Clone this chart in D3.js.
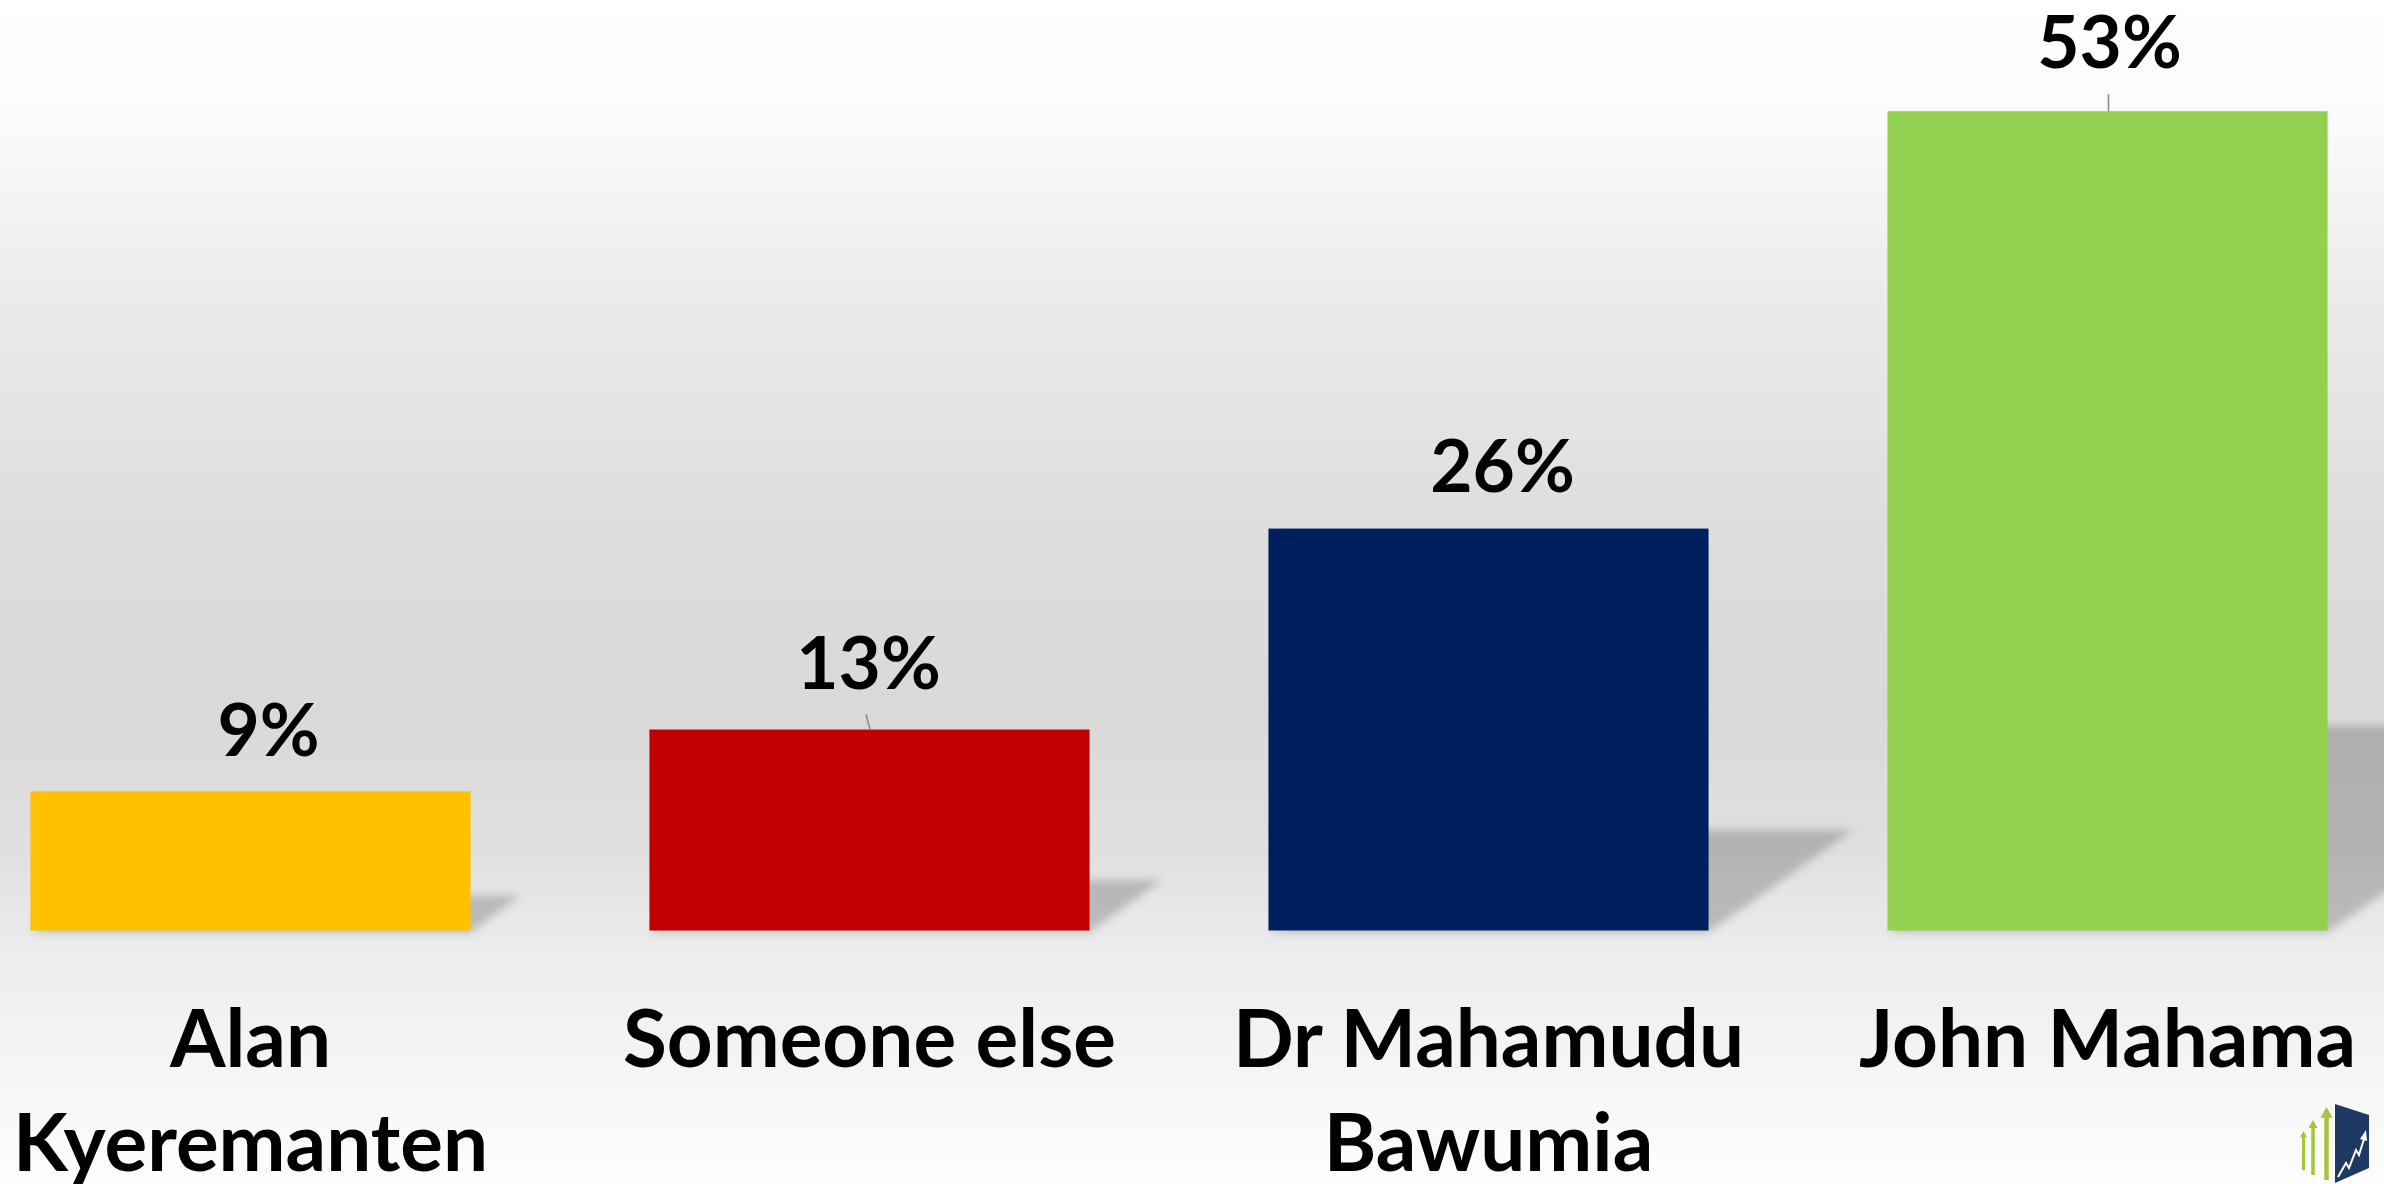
<!DOCTYPE html>
<html>
<head>
<meta charset="utf-8">
<script src="https://cdn.jsdelivr.net/npm/d3@7"></script>
<style>
  html, body { margin: 0; padding: 0; background: #ffffff; overflow: hidden; }
  svg { display: block; }
  text { font-family: Lato, "Open Sans", "Noto Sans", sans-serif; font-weight: 700; fill: #000000; }
</style>
</head>
<body>
<svg id="chart" width="2384" height="1184"></svg>
<script>
// Poll result: share of respondents per candidate
const categories = ["Alan Kyeremanten", "Someone else", "Dr Mahamudu Bawumia", "John Mahama"];
const categoryLines = [["Alan", "Kyeremanten"], ["Someone else"], ["Dr Mahamudu", "Bawumia"], ["John Mahama"]];
const shares = [9, 13, 26, 53];
const barColors = ["#FFC000", "#C00000", "#001F5F", "#92D050"];

const W = 2384, H = 1184;
const svg = d3.select("#chart");
const defs = svg.append("defs");

// Background: white at the top, grey through the middle, fading back to white
const bg = defs.append("linearGradient").attr("id", "bg").attr("x1", 0).attr("y1", 0).attr("x2", 0).attr("y2", 1);
[[0, "#ffffff"], [0.1, "#fbfbfb"], [0.25, "#ebebeb"], [0.45, "#dddddd"], [0.6, "#d9d9d9"],
 [0.72, "#e0e0e0"], [0.8, "#ececec"], [0.9, "#f5f5f5"], [1, "#fdfdfd"]]
  .forEach(([o, c]) => bg.append("stop").attr("offset", o).attr("stop-color", c));
svg.append("rect").attr("width", W).attr("height", H).attr("fill", "url(#bg)");

// Soft blur for the cast shadows
defs.append("filter").attr("id", "soft").attr("x", "-20%").attr("y", "-20%").attr("width", "140%").attr("height", "140%")
  .append("feGaussianBlur").attr("stdDeviation", 4);

const x = d3.scaleBand().domain(categories).range([-59, 2417]).paddingInner(0.289).paddingOuter(0.1445);
const y = d3.scaleLinear().domain([0, 60]).range([930.5, 3]);

const data = categories.map((c, i) => ({ cat: c, v: shares[i], color: barColors[i], lines: categoryLines[i] }));

// Perspective shadows falling back and to the right of each bar
const shadowSlant = 0.36, shadowRise = 0.25;
svg.append("g").selectAll("path").data(data).join("path")
  .attr("d", d => {
    const x0 = x(d.cat), x1 = x0 + x.bandwidth();
    const yb = y(0), h = y(0) - y(d.v);
    const dx = h * shadowSlant, dy = h * shadowRise;
    return `M${x0},${yb + 2}L${x1},${yb + 2}L${x1 + dx},${yb - dy}L${x0 + dx},${yb - dy}Z`;
  })
  .attr("fill", "#000").attr("fill-opacity", 0.2).attr("filter", "url(#soft)");

// Bars
svg.append("g").selectAll("rect").data(data).join("rect")
  .attr("x", d => x(d.cat))
  .attr("y", d => y(d.v))
  .attr("width", x.bandwidth())
  .attr("height", d => y(0) - y(d.v))
  .attr("fill", d => d.color);

// Data labels (some were dragged slightly, with leader lines back to the bar)
const labelNudge = [{ dx: 18, dy: -35 }, { dx: -1, dy: -41 }, { dx: 14, dy: -37 }, { dx: 2, dy: -43 }];
const leaders = [null, { x1: -3.5, x2: 0.5, y1: -15 }, null, { x1: 1, x2: 1, y1: -17 }];

svg.append("g").selectAll("line").data(data.filter((d, i) => leaders[i])).join("line")
  .each(function (d) {
    const i = data.indexOf(d), L = leaders[i], cx = x(d.cat) + x.bandwidth() / 2;
    d3.select(this)
      .attr("x1", cx + L.x1).attr("y1", y(d.v) + L.y1)
      .attr("x2", cx + L.x2).attr("y2", y(d.v));
  })
  .attr("stroke", "#8c8c8c").attr("stroke-width", 1.6);

svg.append("g").selectAll("text").data(data).join("text")
  .attr("x", (d, i) => x(d.cat) + x.bandwidth() / 2 + labelNudge[i].dx)
  .attr("y", (d, i) => y(d.v) + labelNudge[i].dy)
  .attr("text-anchor", "middle")
  .attr("font-size", 73)
  .text(d => d.v + "%");

// Category labels under the bars
const cat = svg.append("g").selectAll("text").data(data).join("text")
  .attr("text-anchor", "middle")
  .attr("font-size", 80);
cat.each(function (d) {
  const cx = x(d.cat) + x.bandwidth() / 2;
  d3.select(this).selectAll("tspan").data(d.lines).join("tspan")
    .attr("x", cx)
    .attr("y", (t, j) => 1067 + j * 104)
    .text(t => t);
});

// Small brand mark, bottom right
const logo = svg.append("g");
function arrow(cx, shaft, head, tip, bottom) {
  const hh = head * 0.9;
  return `M${cx - shaft / 2},${bottom}L${cx - shaft / 2},${tip + hh}L${cx - head / 2},${tip + hh}` +
         `L${cx},${tip}L${cx + head / 2},${tip + hh}L${cx + shaft / 2},${tip + hh}L${cx + shaft / 2},${bottom}Z`;
}
logo.append("path").attr("d", arrow(2303.5, 3, 7, 1131, 1170)).attr("fill", "#A5C53A");
logo.append("path").attr("d", arrow(2313, 3.5, 9, 1120, 1175)).attr("fill", "#A5C53A");
logo.append("path").attr("d", arrow(2326.5, 4.5, 12, 1107, 1180)).attr("fill", "#A5C53A");
logo.append("path").attr("d", "M2335,1104L2369,1115L2369,1168L2335,1183Z").attr("fill", "#1F3864");
logo.append("polyline")
  .attr("points", "2338,1177 2346,1163 2349,1168 2356,1150 2359,1155 2364,1139")
  .attr("fill", "none").attr("stroke", "#ffffff").attr("stroke-width", 2);
logo.append("path").attr("d", "M2360,1139L2366,1130L2367,1141Z").attr("fill", "#ffffff");
</script>
</body>
</html>
